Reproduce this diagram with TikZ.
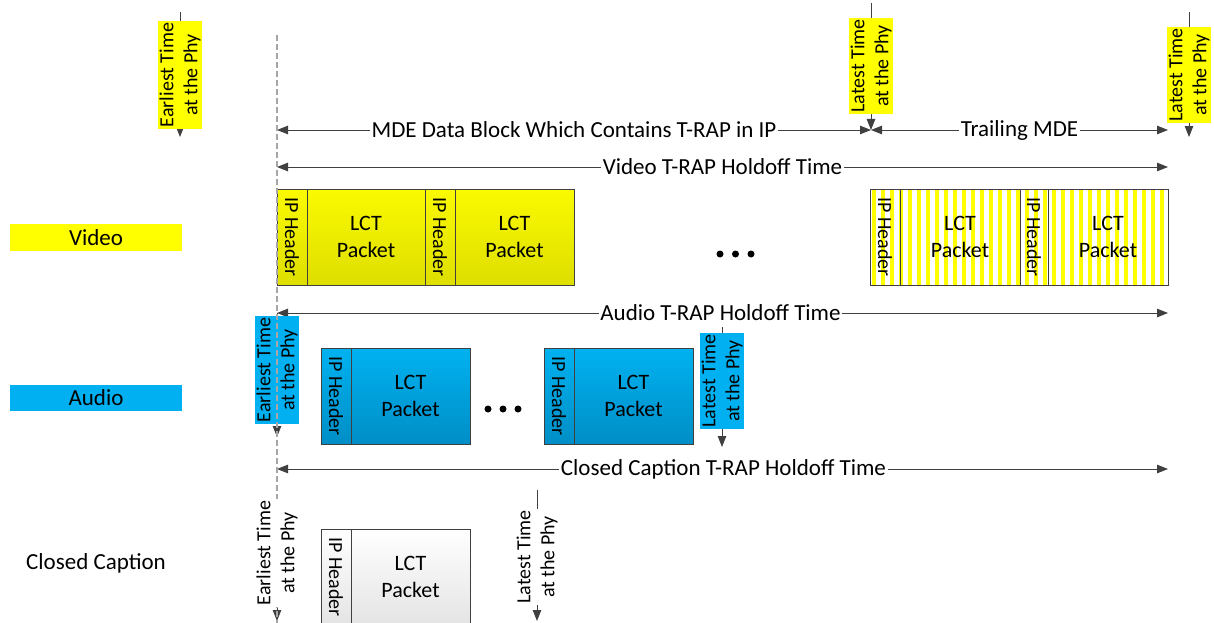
\documentclass[tikz,border=0pt]{standalone}
\usepackage{fontspec}
\setmainfont{Carlito}
\usetikzlibrary{arrows.meta}
\definecolor{ln}{HTML}{404040}
\definecolor{dsh}{HTML}{A6A6A6}
\definecolor{ayel}{HTML}{FFFF00}
\definecolor{acyan}{HTML}{00B0F0}
\definecolor{vtop}{RGB}{250,250,0}
\definecolor{vbot}{RGB}{222,222,0}
\definecolor{atop}{RGB}{0,178,240}
\definecolor{abot}{RGB}{0,142,198}
\definecolor{ctop}{RGB}{255,255,255}
\definecolor{cbot}{RGB}{228,228,228}
\begin{document}
\begin{tikzpicture}[x=1pt,y=-1pt,
  tip/.tip={Triangle[length=11pt,width=8.5pt]},
  dim/.style={draw=ln,line width=0.9pt},
  lbl/.style={fill=white,inner sep=1.5pt,font=\fontsize{23}{26}\selectfont},
  tlab/.style={rotate=90,align=center,inner sep=1.5pt,font=\fontsize{20}{24}\selectfont},
  pk/.style={draw=ln,line width=0.8pt,inner sep=0pt,minimum height=96pt},
  vpk/.style={pk,top color=vtop,bottom color=vbot},
  apk/.style={pk,top color=atop,bottom color=abot},
  cpk/.style={pk,top color=ctop,bottom color=cbot},
  spk/.style={pk},
  iph/.style={rotate=-90,inner sep=0pt,font=\fontsize{20}{24}\selectfont},
  lct/.style={align=center,inner sep=0pt,font=\fontsize{22}{27}\selectfont},
  side/.style={minimum width=172pt,inner sep=0pt,font=\fontsize{23}{26}\selectfont},
  dot/.style={circle,fill=black,inner sep=0pt,minimum size=7pt}
]
\useasboundingbox (0,0) rectangle (1214,623);

% ---------- coordinates for dimension lines ----------
\coordinate (mL) at (277,130);
\coordinate (mM) at (871,130);
\coordinate (mR) at (1168,130);
\coordinate (vL) at (277,167);
\coordinate (vR) at (1168,167);
\coordinate (aL) at (277,313);
\coordinate (aR) at (1168,313);
\coordinate (cL) at (277,469);
\coordinate (cR) at (1168,469);

% ---------- vertical time markers (lines) ----------
\coordinate (e1t) at (180,12);  \coordinate (e1b) at (180,137);
\coordinate (l1t) at (871,3);
\coordinate (l2t) at (1189,12); \coordinate (l2b) at (1189,137);
\coordinate (a3b) at (277,437);
\coordinate (l3t) at (722,327); \coordinate (l3b) at (722,447);
\coordinate (c3t) at (277,598); \coordinate (c3b) at (277,621);
\coordinate (l4t) at (537,490); \coordinate (l4b) at (537,621);

\draw[dim,-tip] (e1t) -- (e1b);
\draw[dim,-tip] (l1t) -- (mM);
\draw[dim,-tip] (l2t) -- (l2b);
\draw[dim,-tip] (aL) -- (a3b);
\draw[dim,-tip] (l3t) -- (l3b);
\draw[dim,-tip] (c3t) -- (c3b);
\draw[dim,-tip] (l4t) -- (l4b);

% ---------- horizontal dimension arrows ----------
\draw[dim,tip-tip] (mL) -- node[lbl] (tmde) {MDE Data Block Which Contains T-RAP in IP} (mM);
\draw[dim,tip-tip] (mM) -- node[lbl] (ttr) {Trailing MDE} (mR);
\draw[dim,tip-tip] (vL) -- node[lbl] (tvh) {Video T-RAP Holdoff Time} (vR);
\draw[dim,tip-tip] (aL) -- node[lbl,pos=0.5,xshift=-2pt] (tah) {Audio T-RAP Holdoff Time} (aR);
\draw[dim,tip-tip] (cL) -- node[lbl,xshift=1pt] (tch) {Closed Caption T-RAP Holdoff Time} (cR);

% ---------- time marker boxes ----------
\node[tlab,fill=ayel] (e1) at (180,75) {Earliest Time\\at the Phy};
\node[tlab,fill=ayel] (l1) at (871,66) {Latest Time\\at the Phy};
\node[tlab,fill=ayel] (l2) at (1189,75) {Latest Time\\at the Phy};
\node[tlab,fill=acyan] (e3) at (277,370) {Earliest Time\\at the Phy};
\node[tlab,fill=acyan] (l3) at (722,381) {Latest Time\\at the Phy};
\node[tlab,fill=white] (l4) at (537,557) {Latest Time\\at the Phy};

% ---------- side labels ----------
\node[side,fill=ayel,minimum height=27pt] (svid) at (96,237.5) {Video};
\node[side,fill=acyan,minimum height=26pt] (saud) at (96,398) {Audio};
\node[side] (scc) at (96,563) {Closed Caption};

% ---------- video packets ----------
\node[vpk,minimum width=30pt] (vh1) at (292,237) {};
\node[iph] (vh1t) at (vh1) {IP Header};
\node[vpk,minimum width=118pt,lct] (vp1) at (366,237) {LCT\\Packet};
\node[vpk,minimum width=30pt] (vh2) at (440,237) {};
\node[iph] (vh2t) at (vh2) {IP Header};
\node[vpk,minimum width=119pt,lct] (vp2) at (514.5,237) {LCT\\Packet};

\node[dot] (vd1) at (720,254) {};
\node[dot] (vd2) at (735.5,254) {};
\node[dot] (vd3) at (751,254) {};

% striped trailing packets
\begin{scope}
  \clip (870,189) rectangle (1168,285);
  \fill[white] (870,189) rectangle (1168,285);
  \foreach \i in {0,...,33} {
    \fill[ayel] (871.5+9*\i,189) rectangle ++(4.5,96);
  }
\end{scope}
\node[spk,minimum width=30pt] (sh1) at (885,237) {};
\node[iph] (sh1t) at (sh1) {IP Header};
\node[spk,minimum width=120pt,lct] (sp1) at (960,237) {LCT\\Packet};
\node[spk,minimum width=28pt] (sh2) at (1034,237) {};
\node[iph] (sh2t) at (sh2) {IP Header};
\node[spk,minimum width=120pt,lct] (sp2) at (1108,237) {LCT\\Packet};

% ---------- audio packets ----------
\node[apk,minimum width=30pt] (ah1) at (336,396) {};
\node[iph] (ah1t) at (ah1) {IP Header};
\node[apk,minimum width=119pt,lct] (ap1) at (410.5,396) {LCT\\Packet};
\node[dot] (ad1) at (488,409) {};
\node[dot] (ad2) at (503,409) {};
\node[dot] (ad3) at (518,409) {};
\node[apk,minimum width=30pt] (ah2) at (559,396) {};
\node[iph] (ah2t) at (ah2) {IP Header};
\node[apk,minimum width=119pt,lct] (ap2) at (633.5,396) {LCT\\Packet};

% ---------- closed caption packet ----------
\node[cpk,minimum width=30pt] (ch1) at (336,577) {};
\node[iph] (ch1t) at (ch1) {IP Header};
\node[cpk,minimum width=119pt,lct] (cp1) at (410.5,577) {LCT\\Packet};

% ---------- reference dashed line ----------
\coordinate (dT) at (277,35);
\coordinate (dB) at (277,623);
\draw[dsh,line width=1.4pt,dash pattern=on 6pt off 3pt] (dT) -- (dB);

\node[tlab,fill=white] (e4) at (277,553) {Earliest Time\\at the Phy};
\end{tikzpicture}
\end{document}
